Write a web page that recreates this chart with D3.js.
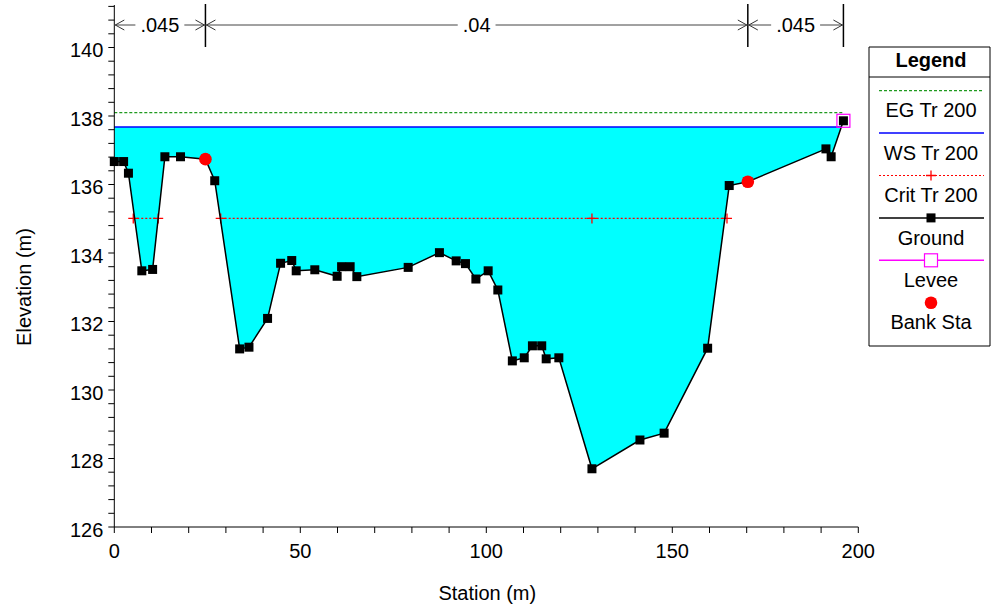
<!DOCTYPE html>
<html><head><meta charset="utf-8">
<script src="https://cdn.jsdelivr.net/npm/d3@7"></script>
<style>body{margin:0;background:#fff}svg{display:block;font-family:"Liberation Sans",Arial,sans-serif}</style>
</head><body><svg id="c" width="991" height="609"></svg>
<script>
const groundSta = [0, 2.5, 3.8, 7.4, 10.3, 13.6, 17.8, 24.5, 27.0, 33.7, 36.2, 41.2, 44.7, 47.7, 48.9, 53.9, 59.9, 61.1, 63.4, 65.2, 79.0, 87.4, 91.9, 94.4, 97.2, 100.5, 103.1, 107.0, 110.2, 112.4, 114.9, 116.1, 119.5, 128.4, 141.3, 147.8, 159.5, 165.3, 170.3, 191.3, 192.7, 196.0];
const groundElev = [136.67, 136.67, 136.33, 133.48, 133.52, 136.81, 136.81, 136.74, 136.11, 131.20, 131.25, 132.09, 133.70, 133.78, 133.48, 133.51, 133.32, 133.60, 133.60, 133.31, 133.58, 134.01, 133.77, 133.69, 133.24, 133.48, 132.92, 130.85, 130.94, 131.29, 131.29, 130.91, 130.94, 127.70, 128.54, 128.74, 131.22, 135.97, 136.08, 137.04, 136.81, 137.86];
const bankSta = [24.5, 170.3];
const bankElev = [136.74, 136.08];
const leveeSta = [196.0];
const leveeElev = [137.86];
const wsElev = 137.68;
const egElev = 138.10;
const critElev = 135.01;
const critSegments = [[5.1, 11.8], [28.6, 164.7]];
const critMarkers = [5.1, 11.8, 28.6, 128.4, 164.7];
const nBounds = [0, 24.5, 170.3, 196.0];
const nLabels = [".045", ".04", ".045"];
const xTicks = [0, 50, 100, 150, 200];
const yTicks = [126, 128, 130, 132, 134, 136, 138, 140];
const legendItems = ["EG Tr 200", "WS Tr 200", "Crit Tr 200", "Ground", "Levee", "Bank Sta"];

const svg = d3.select("#c");
const x = d3.scaleLinear().domain([0, 200]).range([114.3, 858.3]);
const y = d3.scaleLinear().domain([126, 140]).range([527, 47.5]);
const FS = 20;

// Water fill (between WS and ground where ground below WS)
const ground = groundSta.map((s, i) => [s, groundElev[i]]);
const dense = [];
for (let i = 0; i < ground.length; i++) {
  const p = ground[i];
  if (i > 0) {
    const q = ground[i - 1];
    if ((q[1] - wsElev) * (p[1] - wsElev) < 0) {
      const t = (wsElev - q[1]) / (p[1] - q[1]);
      dense.push([q[0] + t * (p[0] - q[0]), wsElev]);
    }
  }
  dense.push(p);
}
const area = d3.area().x(d => x(d[0])).y0(d => y(wsElev)).y1(d => y(Math.min(d[1], wsElev)));
svg.append("path").attr("d", area(dense)).attr("fill", "#00ffff").attr("stroke", "none");
// WS line extent
const wsEnd = dense.filter(d => d[1] <= wsElev + 1e-9).reduce((m, d) => Math.max(m, d[0]), 0);
svg.append("line").attr("x1", x(0)).attr("x2", x(wsEnd)).attr("y1", y(wsElev)).attr("y2", y(wsElev))
  .attr("stroke", "#0000ff").attr("stroke-width", 1.5);
// EG line
svg.append("line").attr("x1", x(0)).attr("x2", x(nBounds[3])).attr("y1", y(egElev)).attr("y2", y(egElev))
  .attr("stroke", "#1f9a1f").attr("stroke-width", 1.2).attr("stroke-dasharray", "3,2");
// Crit lines
critSegments.forEach(s => {
  svg.append("line").attr("x1", x(s[0])).attr("x2", x(s[1])).attr("y1", y(critElev)).attr("y2", y(critElev))
    .attr("stroke", "#ff0000").attr("stroke-width", 1.2).attr("stroke-dasharray", "2,2");
});
critMarkers.forEach(s => {
  const cx = x(s), cy = y(critElev);
  svg.append("path").attr("d", `M${cx-5},${cy}H${cx+5}M${cx},${cy-5}V${cy+5}`).attr("stroke", "#ff0000").attr("stroke-width", 1.3);
});

// Axes
const gx = svg.append("g").attr("transform", `translate(0,${y(126)})`);
gx.append("line").attr("x1", x(0)).attr("x2", x(200)).attr("stroke", "#000").attr("stroke-width", 1);
d3.range(0, 201, 10).forEach(v => {
  gx.append("line").attr("x1", x(v)).attr("x2", x(v)).attr("y1", 0).attr("y2", 6).attr("stroke", "#000");
});
xTicks.forEach(v => {
  gx.append("text").attr("x", x(v)).attr("y", 31).attr("text-anchor", "middle").attr("font-size", FS).text(v);
});
const gy = svg.append("g").attr("transform", `translate(${x(0)},0)`);
gy.append("line").attr("y1", y(126)).attr("y2", 5).attr("stroke", "#000");
d3.range(0, 39).map(i => 126 + i * 0.4).filter(v => y(v) >= 5).forEach(v => {
  gy.append("line").attr("x1", -6).attr("x2", 0).attr("y1", y(v)).attr("y2", y(v)).attr("stroke", "#000");
});
yTicks.forEach(v => {
  gy.append("text").attr("x", -11).attr("y", y(v)).attr("dy", "0.48em").attr("text-anchor", "end").attr("font-size", FS).text(v);
});
svg.append("text").attr("x", x(100) + 1).attr("y", 600).attr("text-anchor", "middle").attr("font-size", FS).text("Station (m)");
svg.append("text").attr("transform", "translate(31,287) rotate(-90)").attr("text-anchor", "middle").attr("font-size", FS).text("Elevation (m)");

// Ground line + markers
svg.append("path").attr("d", d3.line().x(d => x(d[0])).y(d => y(d[1]))(ground))
  .attr("fill", "none").attr("stroke", "#000").attr("stroke-width", 1.5);
leveeSta.forEach((s, i) => {
  svg.append("rect").attr("x", x(s) - 6.5).attr("y", y(leveeElev[i]) - 6.5).attr("width", 13).attr("height", 13)
    .attr("fill", "none").attr("stroke", "#ff00ff").attr("stroke-width", 1.2);
});
ground.forEach(d => {
  svg.append("rect").attr("x", x(d[0]) - 4.5).attr("y", y(d[1]) - 4.5).attr("width", 9).attr("height", 9).attr("fill", "#000");
});
bankSta.forEach((s, i) => {
  svg.append("circle").attr("cx", x(s)).attr("cy", y(bankElev[i])).attr("r", 6.3).attr("fill", "#ff0000");
});

// Manning's n annotation
const ay = 25;
nBounds.forEach((b, i) => {
  if (i > 0) svg.append("line").attr("x1", x(b)).attr("x2", x(b)).attr("y1", 4).attr("y2", 47).attr("stroke", "#000").attr("stroke-width", 1.5);
});
nLabels.forEach((lab, i) => {
  const a = x(nBounds[i]), b = x(nBounds[i + 1]), m = (a + b) / 2;
  const t = svg.append("text").attr("x", m).attr("y", ay + 7).attr("text-anchor", "middle").attr("font-size", FS).text(lab);
  const w = t.node().getComputedTextLength();
  svg.append("line").attr("x1", a).attr("x2", m - w / 2 - 5).attr("y1", ay).attr("y2", ay).attr("stroke", "#444");
  svg.append("line").attr("x1", m + w / 2 + 5).attr("x2", b).attr("y1", ay).attr("y2", ay).attr("stroke", "#444");
  svg.append("path").attr("d", `M${a+10},${ay-5}L${a+1},${ay}L${a+10},${ay+5}`).attr("fill", "none").attr("stroke", "#333");
  svg.append("path").attr("d", `M${b-10},${ay-5}L${b-1},${ay}L${b-10},${ay+5}`).attr("fill", "none").attr("stroke", "#333");
});

// Legend
const lg = svg.append("g");
const L = 869, R = 990, T = 47, B = 346, cx = 931;
lg.append("path").attr("d", `M${R},${T}H${L}V${B}H${R}`).attr("fill", "none").attr("stroke", "#000");
lg.append("line").attr("x1", R).attr("x2", R).attr("y1", T).attr("y2", B).attr("stroke", "#000");
lg.append("line").attr("x1", L).attr("x2", R).attr("y1", 77).attr("y2", 77).attr("stroke", "#000");
lg.append("text").attr("x", cx).attr("y", 67).attr("text-anchor", "middle").attr("font-size", FS).attr("font-weight", "bold").text("Legend");
const ly0 = 90.7, step = 42.4, lx1 = 879, lx2 = 984;
legendItems.forEach((lab, i) => {
  const ly = ly0 + i * step;
  if (i === 0) lg.append("line").attr("x1", lx1).attr("x2", lx2).attr("y1", ly).attr("y2", ly).attr("stroke", "#1f9a1f").attr("stroke-width", 1.2).attr("stroke-dasharray", "3,2");
  if (i === 1) lg.append("line").attr("x1", lx1).attr("x2", lx2).attr("y1", ly).attr("y2", ly).attr("stroke", "#0000ff").attr("stroke-width", 1.5);
  if (i === 2) {
    lg.append("line").attr("x1", lx1).attr("x2", lx2).attr("y1", ly).attr("y2", ly).attr("stroke", "#ff0000").attr("stroke-width", 1.2).attr("stroke-dasharray", "2,2");
    lg.append("path").attr("d", `M${cx-5},${ly}H${cx+5}M${cx},${ly-5}V${ly+5}`).attr("stroke", "#ff0000").attr("stroke-width", 1.3);
  }
  if (i === 3) {
    lg.append("line").attr("x1", lx1).attr("x2", lx2).attr("y1", ly).attr("y2", ly).attr("stroke", "#000").attr("stroke-width", 1.5);
    lg.append("rect").attr("x", cx - 4.5).attr("y", ly - 4.5).attr("width", 9).attr("height", 9).attr("fill", "#000");
  }
  if (i === 4) {
    lg.append("line").attr("x1", lx1).attr("x2", lx2).attr("y1", ly).attr("y2", ly).attr("stroke", "#ff00ff").attr("stroke-width", 1.5);
    lg.append("rect").attr("x", cx - 6.5).attr("y", ly - 6.5).attr("width", 13).attr("height", 13).attr("fill", "#fff").attr("stroke", "#ff00ff").attr("stroke-width", 1.2);
  }
  if (i === 5) lg.append("circle").attr("cx", cx).attr("cy", ly).attr("r", 6.3).attr("fill", "#ff0000");
  lg.append("text").attr("x", cx).attr("y", ly + 26.7).attr("text-anchor", "middle").attr("font-size", FS).text(lab);
});
</script></body></html>
